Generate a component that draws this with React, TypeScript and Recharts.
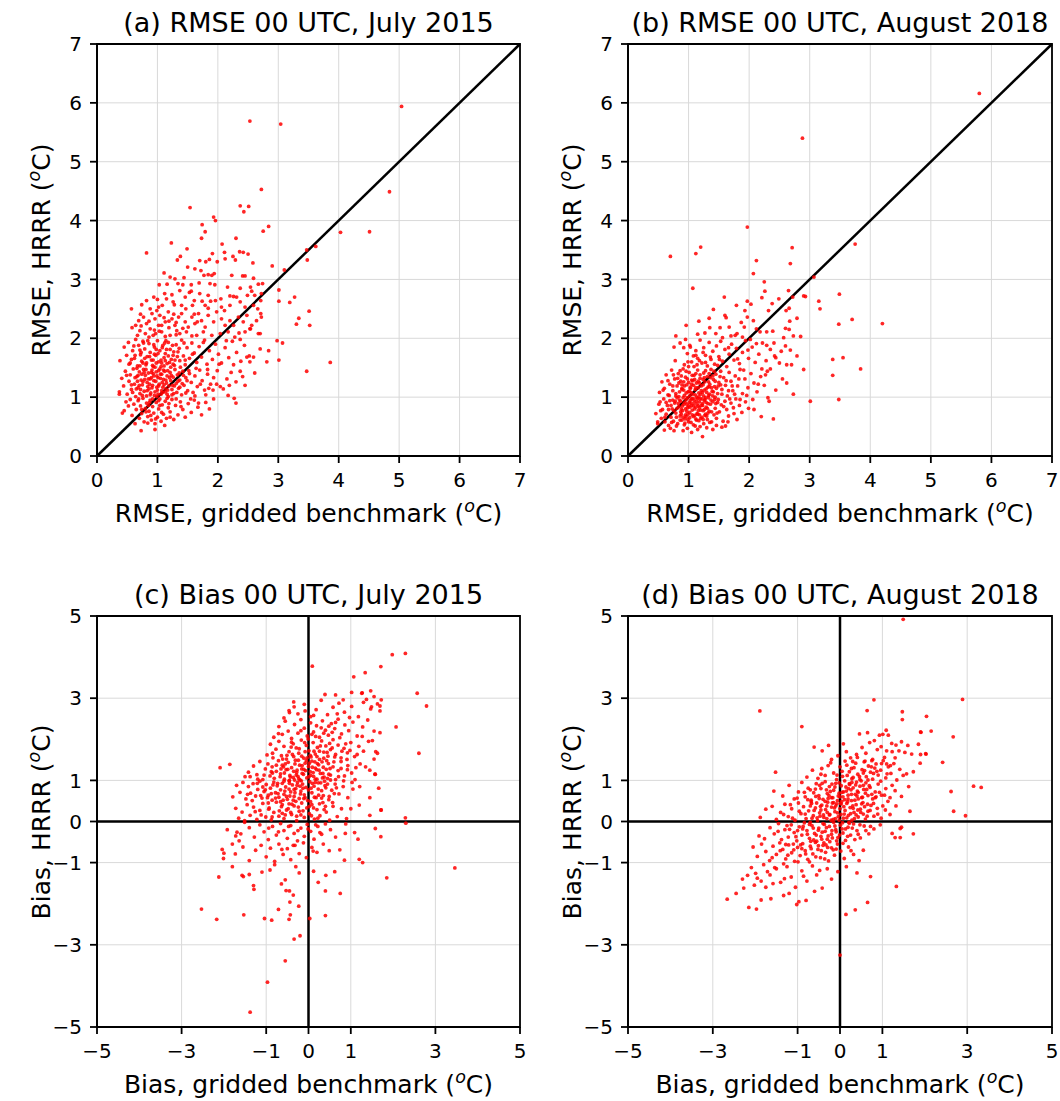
import { ScatterChart, Scatter, XAxis, YAxis, CartesianGrid, ReferenceLine, ReferenceArea } from 'recharts';

type Pt = [number, number];

const RMSE_TICKS = [0, 1, 2, 3, 4, 5, 6, 7];
const BIAS_TICKS = [-5, -3, -1, 0, 1, 3, 5];

const TITLES = [
  '(a) RMSE 00 UTC, July 2015',
  '(b) RMSE 00 UTC, August 2018',
  '(c) Bias 00 UTC, July 2015',
  '(d) Bias 00 UTC, August 2018',
];

// (a) RMSE July 2015: x = gridded benchmark, y = HRRR
const A_PTS: Pt[] = [
  [2.53,5.69],[3.04,5.64],[5.04,5.94],[4.84,4.49],[2.72,4.53],[1.54,4.22],[2.37,4.25],[2.51,4.24],[2.43,4.15],[1.93,4.06],
  [1.96,4.00],[1.74,3.93],[1.79,3.81],[1.73,3.70],[2.75,3.82],[2.84,3.90],[4.03,3.80],[4.51,3.81],[1.23,3.62],[0.82,3.45],
  [2.30,3.70],[2.07,3.60],[1.49,3.52],[3.47,3.50],[3.62,3.56],[3.48,3.33],[2.11,3.46],[1.91,3.44],[1.38,3.39],[1.33,3.33],
  [2.36,3.47],[2.42,3.46],[2.50,3.43],[2.25,3.39],[2.29,3.33],[1.70,3.32],[1.99,3.30],[2.90,3.23],[2.58,3.28],[3.10,3.16],
  [1.11,3.11],[1.50,3.21],[3.27,2.70],[3.19,2.61],[3.01,2.82],[3.01,2.63],[3.51,2.46],[3.34,2.34],[3.30,2.24],[3.52,2.22],
  [2.98,1.96],[3.07,1.92],[3.86,1.59],[3.47,1.44],[3.01,1.63],[2.84,1.79],[2.81,1.60],[2.30,0.90],[2.61,1.41],[0.57,2.50],
  [0.37,1.05],[0.42,0.73],[0.45,0.77],[0.73,0.43],[0.63,0.55],
  [1.80,3.30],[1.86,3.34],[2.12,3.35],[1.62,3.18],[1.72,3.15],[1.94,3.10],[2.23,3.07],[2.41,3.06],[2.45,3.06],[2.59,3.02],
  [1.21,3.04],[1.29,3.01],[1.44,3.03],[1.77,3.07],[1.84,3.08],[1.90,3.07],
  [1.03,2.91],[1.16,2.92],[1.34,2.93],[1.42,2.91],[1.56,2.91],[1.69,2.94],[1.87,2.93],[1.95,2.91],[2.16,2.87],[2.37,2.85],
  [2.54,2.87],[2.67,2.92],[2.74,2.93],[2.56,2.80],[0.94,2.70],[1.00,2.66],[1.12,2.76],[1.15,2.67],[1.24,2.74],[1.26,2.62],
  [1.37,2.81],[1.46,2.70],[1.56,2.80],[1.61,2.64],[1.70,2.76],[1.74,2.63],[1.84,2.73],[1.96,2.64],[2.05,2.67],[2.20,2.72],
  [2.26,2.71],[2.31,2.70],[2.37,2.62],[2.49,2.73],[2.61,2.73],[2.72,2.76],[2.71,2.64],[0.74,2.57],[0.82,2.64],[0.88,2.50],
  [1.02,2.53],[1.08,2.56],[1.40,2.56],[1.47,2.50],[1.58,2.56],[1.79,2.56],[1.84,2.51],[2.06,2.53],[2.20,2.56],[2.45,2.53],
  [2.59,2.56],[2.66,2.50],
  [0.64,2.22],[0.69,2.30],[0.77,2.36],[0.82,2.25],[0.88,2.16],[0.91,2.42],[0.96,2.33],[1.04,2.39],[1.07,2.22],[1.13,2.28],
  [1.18,2.45],[1.24,2.33],[1.29,2.22],[1.35,2.36],[1.40,2.42],[1.46,2.28],[1.51,2.19],[1.57,2.36],[1.62,2.25],[1.68,2.42],
  [1.73,2.30],[1.79,2.19],[1.84,2.39],[1.93,2.28],[1.98,2.45],[2.06,2.33],[2.12,2.22],[2.20,2.30],[2.26,2.22],[2.34,2.36],
  [2.42,2.28],[2.48,2.39],[2.56,2.22],[2.64,2.30],[2.72,2.36],[0.80,2.08],[0.93,2.05],[1.07,2.11],[1.21,2.05],[1.37,2.08],
  [1.48,2.11],[1.65,2.05],[1.76,2.11],[1.90,2.05],[2.04,2.08],[2.17,2.11],[2.28,2.02],[2.45,2.11],[2.53,2.16],[2.67,2.08],
  [0.71,2.13],[1.02,2.22],[1.32,2.13],[0.58,2.18],[0.72,2.41],[0.86,2.29],[0.99,2.47],[1.11,2.35],[1.19,2.18],[1.27,2.41],
  [0.95,2.14],[0.67,2.05],[1.31,2.27],[2.70,2.08],[2.71,2.42],[2.54,2.16],
  [0.38,1.62],[0.45,1.85],[0.49,1.71],[0.52,1.93],[0.55,1.58],[0.59,1.79],[0.62,1.66],[0.64,1.98],[0.67,1.53],[0.69,1.88],
  [0.72,1.72],[0.74,1.61],[0.76,1.95],[0.79,1.82],[0.81,1.55],[0.83,1.69],[0.86,1.91],[0.88,1.76],[0.90,1.63],[0.93,1.52],
  [0.95,1.85],[0.97,1.71],[1.00,1.96],[1.02,1.60],[1.04,1.79],[1.06,1.52],[1.09,1.88],[1.11,1.67],[1.13,1.74],[1.16,1.57],
  [1.18,1.93],[1.21,1.81],[1.23,1.64],[1.26,1.71],[1.28,1.54],[1.31,1.89],[1.34,1.77],[1.37,1.62],[1.40,1.97],[1.43,1.70],
  [1.46,1.55],[1.49,1.84],[1.53,1.66],[1.57,1.92],[1.61,1.75],[1.65,1.59],[1.69,1.86],[1.73,1.68],[1.78,1.97],[1.82,1.56],
  [1.86,1.79],[1.91,1.64],[1.96,1.90],[2.01,1.73],[2.06,1.58],[2.12,1.84],[2.18,1.67],[2.24,1.95],[2.31,1.76],[2.38,1.61],
  [2.44,1.88],[2.52,1.70],[2.59,1.68],[2.48,1.68],[2.53,1.60],[2.70,1.82],[2.37,1.98],[0.98,1.58],[0.71,1.80],[1.14,1.96],
  [0.37,1.09],[0.41,1.32],[0.44,1.19],[0.47,1.44],[0.50,1.05],[0.53,1.27],[0.55,1.38],[0.57,1.13],[0.60,1.48],[0.62,1.22],
  [0.64,1.01],[0.66,1.35],[0.68,1.16],[0.70,1.43],[0.71,1.06],[0.73,1.29],[0.75,1.21],[0.77,1.47],[0.78,1.10],[0.80,1.37],
  [0.82,1.02],[0.83,1.25],[0.85,1.41],[0.86,1.14],[0.88,1.31],[0.89,1.07],[0.91,1.46],[0.92,1.20],[0.94,1.36],[0.95,1.03],
  [0.97,1.27],[0.98,1.43],[1.00,1.12],[1.01,1.33],[1.03,1.22],[1.04,1.48],[1.06,1.05],[1.07,1.39],[1.09,1.17],[1.10,1.30],
  [1.12,1.44],[1.13,1.09],[1.15,1.24],[1.16,1.36],[1.18,1.01],[1.19,1.19],[1.21,1.42],[1.22,1.28],[1.24,1.13],[1.26,1.34],
  [1.27,1.06],[1.29,1.47],[1.31,1.23],[1.33,1.38],[1.35,1.15],[1.37,1.29],[1.40,1.04],[1.42,1.44],[1.44,1.20],[1.47,1.33],
  [1.50,1.11],[1.53,1.40],[1.56,1.25],[1.59,1.08],[1.62,1.36],[1.66,1.18],[1.70,1.46],[1.74,1.28],[1.78,1.12],[1.83,1.39],
  [1.88,1.22],[1.93,1.33],[1.99,1.45],[2.04,1.18],[2.09,1.14],[2.17,1.03],[2.15,1.31],[2.22,1.42],[2.30,1.26],[2.37,1.44],
  [2.45,1.20],[0.87,1.22],[0.93,1.40],[0.99,1.17],[1.05,1.32],[1.11,1.21],[1.17,1.45],[0.96,1.09],[1.02,1.45],[1.08,1.25],
  [1.14,1.14],[0.90,1.33],[0.84,1.18],[1.20,1.33],[1.25,1.20],[0.79,1.30],[1.36,1.41],[0.74,1.39],[0.67,1.27],
  [0.48,0.92],[0.52,0.85],[0.55,0.96],[0.58,0.69],[0.61,0.88],[0.65,0.79],[0.68,0.94],[0.70,0.64],[0.72,0.85],[0.74,0.72],
  [0.76,0.98],[0.78,0.58],[0.80,0.81],[0.82,0.90],[0.84,0.67],[0.86,0.76],[0.88,0.95],[0.90,0.61],[0.92,0.84],[0.94,0.73],
  [0.96,0.55],[0.98,0.91],[1.00,0.66],[1.02,0.80],[1.04,0.97],[1.06,0.59],[1.08,0.87],[1.10,0.71],[1.13,0.93],[1.15,0.64],
  [1.18,0.82],[1.21,0.75],[1.24,0.96],[1.27,0.62],[1.30,0.86],[1.34,0.70],[1.38,0.92],[1.42,0.79],[1.46,0.66],[1.51,0.89],
  [1.56,0.74],[1.61,0.95],[1.67,0.83],[1.73,0.70],[1.80,0.91],[1.86,0.80],[1.93,0.97],[0.96,0.45],[0.84,0.56],[1.12,0.52],
  [0.81,1.47],[0.93,1.63],[1.07,1.58],[0.72,1.13],[0.88,1.04],[1.02,0.94],[1.17,1.12],[1.26,1.56],[0.66,1.49],[0.79,1.66],
  [0.98,1.81],[1.12,1.92],[1.33,1.69],[1.41,1.23],[0.57,1.21],[0.69,0.97],[0.85,0.86],[0.99,1.01],[1.19,0.89],[1.31,0.97],
  [0.76,1.26],[0.91,1.16],[1.05,1.39],[1.22,1.51],[1.36,1.83],[0.63,1.71],[0.77,1.92],[0.94,1.28],[1.09,1.08],[1.28,1.19],
  [0.71,1.53],[0.87,1.69],[1.01,1.74],[1.15,1.81],[1.24,1.04],[0.83,1.11],[0.96,1.51],[1.13,1.62],[1.38,1.51],[0.68,1.37],
  [0.59,1.08],[0.74,0.79],[0.89,0.69],[1.07,0.74],[1.21,0.66],[0.97,0.63],[0.81,0.75],[1.11,1.53],[1.27,1.77],[1.44,1.92],
  [1.52,1.45],[1.58,1.73],[1.64,1.49],[1.71,1.22],[1.47,1.07],[1.55,0.97],[1.39,0.84],[0.53,1.56],[0.61,1.87],[0.86,2.02],
  [1.03,2.12],[1.19,2.29],[1.42,2.17],[0.73,2.21],[0.49,1.37],[0.92,0.97],[1.16,0.98],[1.04,0.86],[0.82,1.58],[0.95,1.73],
  [1.08,1.84],[1.25,1.88],[1.34,1.27],[1.46,1.63],[0.75,1.03],[0.65,1.14],[0.78,1.42],[0.92,1.54],[1.06,1.63],[1.18,1.70],
  [1.32,1.08],[1.43,1.37],[0.84,1.96],[0.97,2.08],[1.13,2.03],[1.31,2.06],[1.57,2.04],[1.66,2.28],[1.76,1.93],[1.83,1.47],
  [1.92,1.12],[2.02,1.56],[2.14,1.96],[2.26,1.55],[2.35,2.09],[1.61,2.41],[1.88,2.63],[2.11,2.47],[1.53,2.78],[1.28,2.57],
  [1.02,1.19],[1.10,1.46],[0.90,1.42],[0.76,1.58],[0.70,1.20],[0.87,0.91],[1.01,1.05],[1.14,1.29],[1.23,1.37],[0.99,1.36],
  [0.85,1.31],[1.07,1.11],[1.20,1.59],[1.29,1.63],[0.94,1.89],[1.16,1.05],[1.37,1.17],[0.63,1.33],[0.57,1.64],[0.73,1.76],
  [1.49,1.28],[1.62,1.02],[1.80,1.04],[1.98,1.22],[2.19,1.20],[2.41,1.35],[2.27,0.98],[1.68,0.90],[1.85,1.15],
];

// (b) RMSE August 2018
const B_PTS: Pt[] = [
  [5.80,6.16],[2.88,5.40],[1.97,3.89],[0.70,3.39],[1.20,3.55],[1.12,3.44],[2.71,3.54],[2.68,3.27],[2.12,3.32],[3.75,3.60],
  [2.07,3.10],[2.25,2.96],[3.07,3.04],[1.07,2.85],[2.26,2.80],[2.65,2.81],[2.72,2.70],[2.90,2.72],[2.93,2.71],[3.49,2.75],
  [3.15,2.63],[3.17,2.50],[3.70,2.32],[4.20,2.25],[3.48,2.24],[1.59,2.70],[1.41,2.49],[1.79,2.56],[1.97,2.63],[1.93,2.47],
  [2.03,2.58],[2.21,2.69],[2.38,2.59],[2.49,2.67],[2.32,2.47],[2.61,2.47],[2.66,2.51],[1.60,2.39],[1.62,2.35],[1.34,2.34],
  [1.97,2.36],[1.17,2.29],[2.07,2.30],[2.79,2.34],[2.67,2.29],[0.96,2.22],[1.35,2.18],[1.67,2.19],[1.92,2.19],[2.12,2.16],
  [2.18,2.11],[2.29,2.11],[2.39,2.12],[2.60,2.17],[2.66,2.15],[2.85,2.03],[2.73,2.04],[0.79,2.04],[1.15,2.07],[1.27,2.09],
  [1.45,2.08],[1.56,2.01],[1.77,2.05],[1.80,2.08],[1.89,2.02],[2.02,1.98],[0.76,1.85],[0.92,1.84],[1.03,1.85],[2.57,2.01],
  [2.41,1.92],[2.29,1.88],[2.53,1.78],[2.68,1.80],[2.44,1.67],[2.79,1.70],[3.38,1.64],[3.55,1.67],[3.84,1.48],[3.38,1.37],
  [2.90,1.47],[2.62,1.55],[2.70,1.55],[2.55,1.31],[2.62,1.24],[2.35,1.48],[2.27,1.38],[2.30,1.44],[2.73,1.05],[3.48,0.96],
  [2.31,0.99],[3.01,0.93],[2.40,0.63],[2.20,0.67],[1.80,0.62],[1.61,0.51],[1.55,0.49],[1.23,0.33],[1.30,0.48],[0.91,0.43],
  [0.76,0.43],[0.60,0.44],[0.49,0.55],[0.53,0.92],[2.08,0.79],[1.99,0.81],[2.33,0.93],
  [0.78,1.62],[0.86,1.92],[0.93,1.55],[0.98,1.74],[1.02,1.88],[1.05,1.60],[1.09,1.52],[1.12,1.79],[1.15,1.66],[1.19,1.97],
  [1.22,1.58],[1.25,1.84],[1.28,1.71],[1.31,1.53],[1.34,1.93],[1.37,1.64],[1.40,1.78],[1.43,1.56],[1.46,1.87],[1.50,1.69],
  [1.53,1.95],[1.56,1.61],[1.60,1.81],[1.63,1.52],[1.67,1.73],[1.71,1.90],[1.75,1.63],[1.79,1.83],[1.84,1.57],[1.89,1.76],
  [1.94,1.96],[1.99,1.66],[2.05,1.85],[2.10,1.59],[2.16,1.73],[2.22,1.92],[2.28,1.62],[2.35,1.81],[2.42,1.70],[2.50,1.58],
  [2.60,1.87],[1.08,1.70],[1.18,1.62],[1.48,1.54],[0.95,1.98],
  [0.52,1.08],[0.56,1.26],[0.60,1.15],[0.63,1.38],[0.66,1.04],[0.69,1.22],[0.72,1.46],[0.74,1.11],[0.77,1.31],[0.79,1.02],
  [0.81,1.19],[0.83,1.40],[0.85,1.09],[0.87,1.27],[0.89,1.15],[0.91,1.48],[0.93,1.03],[0.95,1.34],[0.97,1.21],[0.99,1.09],
  [1.01,1.42],[1.03,1.17],[1.05,1.29],[1.07,1.05],[1.09,1.37],[1.11,1.13],[1.13,1.24],[1.15,1.46],[1.17,1.01],[1.19,1.32],
  [1.21,1.19],[1.23,1.08],[1.25,1.41],[1.27,1.26],[1.29,1.14],[1.31,1.35],[1.33,1.03],[1.35,1.22],[1.37,1.47],[1.39,1.10],
  [1.41,1.30],[1.43,1.18],[1.45,1.39],[1.48,1.06],[1.50,1.25],[1.53,1.44],[1.55,1.13],[1.58,1.33],[1.61,1.20],[1.64,1.02],
  [1.67,1.42],[1.70,1.27],[1.73,1.11],[1.77,1.36],[1.81,1.19],[1.85,1.47],[1.89,1.06],[1.93,1.31],[1.98,1.16],[2.03,1.40],
  [2.08,1.24],[2.13,1.09],[2.19,1.35],[2.25,1.20],[2.44,1.12],[0.88,1.36],[0.92,1.12],[0.96,1.44],[1.00,1.25],[1.04,1.08],
  [1.08,1.20],[1.12,1.40],[1.16,1.16],[1.20,1.05],[1.24,1.30],[1.28,1.45],[1.32,1.17],[1.36,1.33],[1.40,1.02],[1.44,1.27],
  [1.02,1.02],[1.10,1.30],[1.18,1.24],[0.98,1.31],[1.26,1.12],[1.34,1.40],[0.84,1.24],[1.46,1.15],[1.52,1.35],
  [0.46,0.72],[0.49,0.58],[0.51,0.88],[0.55,0.64],[0.57,0.79],[0.59,0.97],[0.61,0.58],[0.63,0.71],[0.65,0.86],[0.67,0.52],
  [0.69,0.94],[0.71,0.66],[0.73,0.80],[0.75,0.59],[0.77,0.90],[0.79,0.73],[0.81,0.99],[0.82,0.55],[0.84,0.84],[0.86,0.68],
  [0.87,0.93],[0.89,0.61],[0.90,0.77],[0.92,0.88],[0.93,0.53],[0.95,0.70],[0.96,0.96],[0.98,0.82],[0.99,0.62],[1.01,0.91],
  [1.02,0.74],[1.04,0.57],[1.05,0.86],[1.07,0.98],[1.08,0.67],[1.10,0.80],[1.11,0.51],[1.13,0.93],[1.14,0.72],[1.16,0.85],
  [1.17,0.60],[1.19,0.97],[1.20,0.78],[1.22,0.66],[1.23,0.89],[1.25,0.55],[1.26,0.94],[1.28,0.71],[1.29,0.83],[1.31,0.62],
  [1.33,0.99],[1.34,0.76],[1.36,0.88],[1.38,0.58],[1.40,0.92],[1.42,0.70],[1.44,0.81],[1.46,0.64],[1.49,0.96],[1.51,0.75],
  [1.54,0.87],[1.57,0.59],[1.60,0.93],[1.63,0.79],[1.66,0.68],[1.70,0.90],[1.74,0.82],[1.78,0.97],[1.84,0.86],[1.88,0.74],
  [1.94,0.92],[0.85,0.95],[0.88,0.80],[0.91,0.66],[0.94,0.91],[0.97,0.76],[1.00,0.58],[1.03,0.95],[1.06,0.78],[1.09,0.90],
  [1.12,0.63],[1.15,0.98],[1.18,0.70],[1.21,0.86],[1.24,0.77],[1.27,0.96],[1.30,0.68],[1.00,0.85],[1.06,0.70],[1.12,0.83],
  [0.94,0.63],[1.18,0.92],[1.24,0.62],[0.80,0.66],[0.74,0.95],[1.32,0.89],[1.38,0.75],[1.43,0.96],
  [1.05,0.40],[0.98,0.47],[1.15,0.45],[0.70,0.47],[1.40,0.45],
  [0.83,0.89],[0.96,1.07],[1.09,0.95],[1.21,1.11],[1.35,1.05],[0.88,0.71],[1.02,0.83],[1.16,0.77],[1.29,0.91],[1.41,1.09],
  [0.79,1.06],[0.93,1.19],[1.07,1.28],[1.19,1.38],[1.33,1.26],[0.71,0.86],[0.86,0.61],[0.99,0.71],[1.13,0.61],[1.27,0.69],
  [0.91,0.99],[1.04,0.90],[1.17,1.07],[1.31,0.81],[1.45,0.89],[0.76,0.77],[0.89,1.13],[1.03,1.15],[1.14,0.88],[1.25,1.02],
  [0.82,1.32],[0.97,0.88],[1.11,1.04],[1.22,0.97],[1.38,1.16],[0.68,1.03],[0.81,0.81],[0.95,0.80],[1.08,0.85],[1.20,0.64],
  [1.32,0.73],[1.47,0.73],[0.92,1.26],[1.06,1.37],[1.24,1.21],[1.40,1.36],[1.55,1.05],[1.62,1.28],[1.68,0.97],[1.72,1.19],
  [1.58,0.84],[1.49,1.19],[0.63,0.91],[0.58,1.12],[0.66,1.28],[0.74,1.19],[0.86,1.45],[1.00,1.52],[1.14,1.55],[1.28,1.59],
  [1.42,1.44],[0.72,0.57],[0.80,0.51],[0.94,0.56],[1.08,0.53],[1.19,0.50],[1.35,0.57],[1.46,0.52],[1.02,0.65],[1.15,0.71],
  [0.87,0.75],[0.98,0.99],[1.12,1.16],[1.26,1.33],[1.37,0.95],[1.48,0.91],[1.53,1.21],[1.66,1.11],[1.76,1.05],[1.83,1.31],
  [1.91,1.46],[1.96,1.03],[2.06,0.96],[2.15,1.22],[2.21,1.48],[1.85,0.96],[1.75,0.72],[1.65,0.58],[0.90,0.85],[1.05,0.97],
  [1.18,0.82],[1.30,1.08],[1.44,1.00],[0.84,1.01],[0.78,0.93],[1.01,1.10],[1.13,1.00],[1.23,0.86],[1.34,1.18],[0.96,0.67],
  [1.10,0.69],[1.26,0.79],[0.89,1.21],[1.05,1.22],[1.16,1.27],[1.28,0.99],[0.75,1.38],[0.67,0.79],[0.61,0.66],[0.54,0.77],
  [0.99,1.60],[1.12,1.71],[1.24,1.76],[1.36,1.68],[1.51,1.64],[1.66,1.84],[1.81,1.65],[1.98,1.80],[2.12,1.91],[1.70,2.04],
  [1.52,2.18],[1.87,2.27],
];

// (c) Bias July 2015
const C_PTS: Pt[] = [
  [2.29,4.09],[1.98,4.06],[0.09,3.78],[1.71,3.77],[1.34,3.62],[1.07,3.52],[2.57,3.12],[2.79,2.81],[0.39,3.09],[0.64,3.08],
  [1.02,3.14],[1.27,3.13],[1.47,3.18],[2.07,2.30],[2.61,1.66],[1.66,0.81],[1.58,1.15],[1.45,1.25],[2.29,0.09],[2.30,-0.04],
  [1.72,0.28],[1.58,-0.17],[1.71,-0.37],[3.46,-1.13],[1.85,-1.37],[-2.09,1.31],[-1.86,1.39],[-1.79,0.60],[-2.53,-2.13],[-2.17,-2.38],
  [-2.12,-1.35],[-1.53,-2.27],[-1.38,-4.64],[-0.97,-3.91],[-0.55,-3.39],[-0.34,-2.86],[-0.20,-2.78],[-1.04,-2.36],[-0.87,-2.40],[-0.71,-2.14],
  [-0.46,-2.38],[-0.43,-2.27],[-0.23,-2.06],[0.40,-2.29],[0.03,-2.36],[-0.53,-1.68],[-0.45,-1.69],[-0.44,-1.96],[-0.36,-1.79],[-0.64,-1.52],
  [-0.55,-1.42],[0.23,-1.48],[0.40,-1.69],[0.75,-1.75],[0.62,-1.22],[0.41,-1.31],[0.12,-1.21],[-1.29,-1.65],[-1.30,-1.56],[-1.57,-1.31],
  [-1.54,-1.34],[-1.40,-1.29],[-1.10,-1.23],[-0.91,-1.18],[-0.22,-1.25],[-0.80,-1.05],[-0.30,-1.10],[-1.80,-1.10],
  [-0.34,2.79],[-0.08,2.69],[-0.45,2.65],[0.82,2.96],[1.26,3.12],[1.37,2.97],[1.55,3.04],[1.72,2.96],[1.63,2.86],[1.69,2.81],
  [1.49,2.79],[1.69,2.69],[1.55,2.20],[1.51,1.97],[1.35,1.33],[1.10,1.02],[1.71,0.28],
  [-0.46,2.70],[-0.35,2.91],[-0.25,2.62],[-0.10,2.85],[0.05,2.55],[0.18,2.72],[0.30,2.95],[0.45,2.60],[0.58,2.78],[0.72,2.88],
  [0.85,2.66],[1.02,2.80],[1.18,2.55],[1.30,2.90],[1.47,2.74],[-0.58,2.52],
  [-0.82,2.05],[-0.70,2.31],[-0.62,2.12],[-0.55,2.44],[-0.48,2.20],[-0.40,2.02],[-0.33,2.36],[-0.25,2.15],[-0.18,2.48],[-0.10,2.27],
  [-0.03,2.08],[0.05,2.40],[0.12,2.18],[0.19,2.33],[0.26,2.05],[0.33,2.45],[0.40,2.22],[0.47,2.10],[0.54,2.38],[0.62,2.26],
  [0.70,2.49],[0.78,2.13],[0.86,2.35],[0.95,2.21],[1.05,2.42],[1.15,2.08],[1.28,2.30],[1.40,2.47],[1.69,2.16],[0.30,2.28],
  [0.08,2.12],
  [-0.98,1.62],[-0.90,1.88],[-0.84,1.55],[-0.77,1.76],[-0.70,1.95],[-0.64,1.60],[-0.58,1.83],[-0.52,1.52],[-0.46,1.70],[-0.40,1.93],
  [-0.35,1.58],[-0.29,1.79],[-0.23,1.66],[-0.17,1.98],[-0.11,1.54],[-0.05,1.85],[0.01,1.72],[0.06,1.57],[0.11,1.92],[0.16,1.64],
  [0.21,1.80],[0.26,1.51],[0.31,1.96],[0.36,1.69],[0.41,1.84],[0.46,1.59],[0.52,1.75],[0.58,1.99],[0.64,1.63],[0.70,1.86],
  [0.77,1.55],[0.84,1.78],[0.92,1.67],[1.00,1.92],[1.09,1.58],[1.19,1.83],[1.30,1.71],[1.42,1.95],[1.59,1.70],[1.63,1.66],
  [1.55,1.52],[0.20,1.58],[-0.08,1.70],[0.50,1.90],
  [-1.50,1.09],[-1.42,1.20],[-1.38,1.09],[-1.30,1.35],[-1.22,1.14],[-1.15,1.46],[-1.08,1.02],[-1.02,1.28],[-0.96,1.40],[-0.91,1.11],
  [-0.86,1.33],[-0.81,1.05],[-0.76,1.22],[-0.71,1.48],[-0.66,1.16],[-0.62,1.37],[-0.57,1.03],[-0.53,1.26],[-0.48,1.44],[-0.44,1.12],
  [-0.40,1.31],[-0.36,1.07],[-0.32,1.40],[-0.28,1.19],[-0.24,1.49],[-0.20,1.01],[-0.16,1.28],[-0.12,1.15],[-0.08,1.42],[-0.04,1.06],
  [0.00,1.34],[0.04,1.21],[0.08,1.47],[0.12,1.10],[0.16,1.30],[0.20,1.03],[0.24,1.38],[0.28,1.17],[0.32,1.45],[0.37,1.08],
  [0.42,1.27],[0.47,1.41],[0.52,1.13],[0.58,1.33],[0.64,1.02],[0.70,1.24],[0.77,1.46],[0.85,1.11],[0.93,1.36],[1.02,1.18],
  [1.22,1.40],[1.57,1.15],[-0.55,1.40],[-0.35,1.22],[-0.15,1.36],[0.05,1.12],[0.25,1.25],[-0.45,1.00],[-0.25,1.10],[0.15,1.45],
  [0.35,1.32],[-0.65,1.28],[-0.05,1.48],[0.45,1.05],[-0.85,1.18],[0.60,1.45],[-1.20,1.03],
  [-1.70,0.88],[-1.62,0.71],[-1.55,0.95],[-1.48,0.55],[-1.42,0.85],[-1.37,0.69],[-1.31,0.92],[-1.25,0.62],[-1.20,0.78],[-1.15,0.98],
  [-1.10,0.57],[-1.05,0.73],[-1.00,0.90],[-0.95,0.64],[-0.90,0.81],[-0.86,0.52],[-0.82,0.96],[-0.78,0.70],[-0.74,0.87],[-0.70,0.59],
  [-0.66,0.77],[-0.62,0.93],[-0.58,0.66],[-0.54,0.84],[-0.50,0.54],[-0.46,0.99],[-0.42,0.72],[-0.38,0.89],[-0.34,0.61],[-0.30,0.80],
  [-0.26,0.95],[-0.22,0.56],[-0.18,0.74],[-0.14,0.91],[-0.10,0.65],[-0.06,0.83],[-0.02,0.51],[0.03,0.97],[0.08,0.70],[0.13,0.86],
  [0.18,0.58],[0.23,0.79],[0.29,0.94],[0.35,0.63],[0.41,0.82],[0.48,0.53],[0.55,0.76],[0.63,0.91],[0.72,0.67],[0.82,0.85],
  [0.93,0.58],[1.05,0.79],[1.45,0.58],[-0.60,0.52],[-0.32,0.70],[-0.08,0.58],[0.16,0.95],[-0.88,0.68],[-0.44,0.62],[0.00,0.77],
  [-1.08,0.84],[0.38,0.98],[-0.20,0.86],
  [-1.72,0.32],[-1.65,0.08],[-1.57,0.23],[-1.51,0.02],[-1.45,0.41],[-1.38,0.15],[-1.30,0.35],[-1.22,0.05],[-1.15,0.27],[-1.08,0.44],
  [-1.01,0.11],[-0.94,0.30],[-0.88,0.04],[-0.82,0.22],[-0.76,0.47],[-0.70,0.13],[-0.64,0.36],[-0.58,0.07],[-0.52,0.28],[-0.46,0.43],
  [-0.40,0.17],[-0.34,0.38],[-0.28,0.02],[-0.22,0.25],[-0.16,0.45],[-0.10,0.10],[-0.04,0.33],[0.02,0.19],[0.08,0.41],[0.14,0.06],
  [0.20,0.29],[0.27,0.14],[0.34,0.46],[0.42,0.23],[0.50,0.03],[0.58,0.37],[0.68,0.12],[0.78,0.31],[0.90,0.07],[1.00,0.31],
  [1.20,0.40],[1.45,0.15],[-0.62,0.20],[-0.30,0.49],[0.05,0.48],[-0.95,0.45],
  [-1.69,-0.26],[-1.60,-0.30],[-1.72,-0.35],[-1.64,-0.47],[-1.51,-0.02],[-1.40,-0.15],[-1.28,-0.38],[-1.15,-0.08],[-1.05,-0.25],[-0.95,-0.44],
  [-0.85,-0.12],[-0.76,-0.33],[-0.66,-0.05],[-0.58,-0.22],[-0.50,-0.41],[-0.42,-0.10],[-0.34,-0.29],[-0.26,-0.47],[-0.18,-0.16],[-0.10,-0.36],
  [-0.03,-0.07],[0.05,-0.24],[0.13,-0.43],[0.22,-0.12],[0.31,-0.31],[0.40,-0.06],[0.52,-0.20],[0.64,-0.38],[0.87,-0.29],[0.88,-0.06],
  [1.09,-0.27],[1.17,-0.43],[-1.92,-0.20],
  [-2.04,-0.68],[-2.00,-0.77],[-2.01,-0.90],[-1.73,-0.79],[-1.55,-0.62],[-1.40,-0.95],[-1.25,-0.70],[-1.12,-0.58],[-1.00,-0.86],[-0.90,-0.65],
  [-0.80,-0.97],[-0.70,-0.55],[-0.60,-0.80],[-0.50,-0.66],[-0.42,-0.93],[-0.32,-0.58],[-0.22,-0.78],[-0.12,-0.52],[-0.05,-0.88],[0.08,-0.63],
  [0.20,-0.75],[0.35,-0.55],[0.49,-0.71],[0.74,-0.69],[0.85,-0.94],[1.20,-0.92],[1.28,-1.00],[-1.80,-0.55],
  [-0.61,1.52],[-0.49,1.27],[-0.38,1.63],[-0.27,0.88],[-0.15,1.17],[-0.03,1.55],[0.09,0.93],[0.21,1.41],[0.33,1.06],[0.44,1.68],
  [-0.56,0.74],[-0.43,1.08],[-0.31,1.49],[-0.19,0.67],[-0.07,1.24],[0.04,1.61],[0.16,1.03],[0.28,1.84],[0.39,0.87],[0.51,1.29],
  [-0.67,1.09],[-0.52,0.61],[-0.41,1.81],[-0.29,1.13],[-0.13,0.81],[0.01,1.09],[0.13,1.71],[0.24,0.64],[0.36,1.54],[0.48,1.15],
  [-0.73,0.93],[-0.59,1.33],[-0.46,0.79],[-0.33,1.01],[-0.21,1.37],[-0.09,1.92],[0.06,0.81],[0.19,1.26],[0.31,0.75],[0.43,1.48],
  [-0.62,0.41],[-0.48,0.31],[-0.36,0.52],[-0.24,0.35],[-0.11,0.56],[0.02,0.37],[0.14,0.59],[0.26,0.43],[0.37,0.29],[0.49,0.61],
  [-0.78,0.57],[-0.69,0.26],[-0.55,0.16],[-0.42,0.22],[-0.28,0.13],[-0.13,0.26],[0.07,0.14],[0.22,0.08],[0.31,0.57],[0.57,0.46],
  [-0.97,0.58],[-0.84,0.89],[-0.76,1.37],[-0.88,1.21],[-1.02,0.77],[-1.13,0.63],[-1.21,0.93],[-1.05,1.13],[-0.93,0.33],[-1.12,0.16],
  [0.62,1.57],[0.71,1.09],[0.66,0.82],[0.77,1.29],[0.83,0.99],[0.91,1.51],[0.98,1.73],[0.88,1.89],[0.74,2.04],[0.56,2.17],
  [-0.51,1.61],[-0.36,1.89],[-0.22,1.77],[-0.01,2.01],[0.17,2.07],[0.36,2.15],[0.48,2.32],[0.64,2.41],[0.26,1.71],[-0.16,1.59],
  [-0.57,1.18],[-0.45,0.93],[-0.34,0.78],[-0.23,1.04],[-0.11,1.27],[0.02,1.42],[0.11,1.19],[0.23,0.94],[0.34,1.17],[0.45,0.91],
  [-0.39,0.42],[-0.18,0.16],[0.12,0.33],[0.40,0.37],[-0.72,0.68],[-0.66,0.48],[-0.86,0.11],[-1.26,0.24],[-1.44,0.66],[-1.33,0.51],
  [-0.47,-0.12],[-0.25,-0.22],[-0.01,-0.18],[0.27,-0.27],[-0.71,-0.25],[-0.94,-0.16],[-0.36,-0.58],[0.11,-0.72],[-0.63,-0.68],[0.17,-0.08],
  [-0.17,0.99],[0.09,1.32],[-0.27,1.25],[-0.58,0.98],[0.52,1.01],[0.61,0.68],[0.56,1.79],[0.79,1.71],[0.92,1.26],[1.12,1.31],
  [1.03,0.95],[1.21,0.85],[1.15,1.63],[1.27,2.07],[0.97,2.53],[0.68,2.62],[0.12,2.58],[-0.18,2.21],[-0.71,2.14],[-0.85,1.66],
];

// (d) Bias August 2018
const D_PTS: Pt[] = [
  [1.49,4.92],[0.80,2.96],[2.89,2.97],[-1.89,2.69],[0.64,2.70],[1.47,2.67],[1.47,2.48],[2.04,2.56],[-0.90,2.31],[1.09,2.22],
  [1.90,2.18],[2.15,2.20],[2.67,2.06],[1.85,1.88],[2.02,1.65],[1.90,1.63],[-1.52,1.20],[-1.60,0.37],
  [0.46,2.13],[0.65,2.16],[0.93,2.10],[1.01,2.12],[1.14,2.10],[0.81,1.97],[1.22,1.90],[1.32,1.86],[1.45,1.94],[1.91,2.17],
  [0.97,1.82],[1.10,1.72],[1.23,1.70],[1.39,1.72],[1.53,1.68],[1.69,1.64],[2.03,1.64],[0.39,1.63],[0.61,1.66],[0.77,1.51],
  [0.08,1.89],[-0.27,1.85],[-0.42,1.72],[-0.61,1.81],[-0.20,1.51],[0.25,1.55],[0.52,1.80],[0.70,1.92],[1.05,1.56],[1.60,1.85],
  [0.88,1.75],[1.30,1.55],[0.15,1.70],[-0.05,1.60],
  [-0.78,1.08],[-0.65,1.25],[-0.52,1.05],[-0.43,1.29],[-0.35,1.12],[-0.22,1.43],[-0.15,1.18],[-0.08,1.02],[0.00,1.33],[0.06,1.10],
  [0.12,1.47],[0.16,1.37],[0.22,1.21],[0.28,1.04],[0.33,1.31],[0.37,1.42],[0.42,1.15],[0.47,1.02],[0.52,1.26],[0.57,1.45],
  [0.62,1.09],[0.67,1.35],[0.72,1.20],[0.77,1.03],[0.82,1.30],[0.85,1.40],[0.90,1.13],[0.96,1.25],[1.02,1.48],[1.08,1.06],
  [1.14,1.33],[1.20,1.17],[1.27,1.41],[1.34,1.01],[1.41,1.27],[1.49,1.12],[1.57,1.16],[1.73,1.21],[1.89,1.42],[2.42,1.44],
  [0.30,1.46],[-0.28,1.36],[0.55,1.18],[0.05,1.22],[0.75,1.48],[1.10,1.40],[-0.45,1.15],
  [-1.56,0.74],[-1.35,0.62],[-1.20,0.88],[-1.08,0.55],[-0.98,0.72],[-0.90,0.95],[-0.82,0.60],[-0.75,0.81],[-0.68,0.52],[-0.62,0.70],
  [-0.56,0.92],[-0.50,0.63],[-0.45,0.80],[-0.40,0.54],[-0.35,0.97],[-0.30,0.68],[-0.25,0.85],[-0.20,0.58],[-0.15,0.76],[-0.10,0.93],
  [-0.06,0.51],[-0.02,0.69],[0.03,0.87],[0.07,0.60],[0.11,0.99],[0.15,0.74],[0.19,0.55],[0.23,0.90],[0.27,0.66],[0.31,0.82],
  [0.35,0.52],[0.39,0.96],[0.43,0.71],[0.47,0.86],[0.51,0.58],[0.56,0.78],[0.61,0.94],[0.66,0.63],[0.71,0.83],[0.77,0.55],
  [0.83,0.72],[0.90,0.91],[0.98,0.64],[1.08,0.80],[1.18,0.58],[1.30,0.75],[1.45,0.61],[1.62,0.85],[2.62,0.73],[3.15,0.86],
  [3.33,0.83],[0.20,0.80],[0.00,0.60],[-0.12,0.84],[0.40,0.62],[0.60,0.69],[0.08,0.72],[-0.28,0.56],[0.28,0.95],[0.50,0.99],
  [-0.48,0.88],[0.85,0.60],[-0.70,0.77],
  [-1.88,0.10],[-1.75,0.30],[-1.50,0.05],[-1.40,0.22],[-1.30,0.42],[-1.22,0.12],[-1.14,0.31],[-1.06,0.03],[-0.98,0.45],[-0.92,0.19],
  [-0.86,0.36],[-0.80,0.07],[-0.74,0.26],[-0.68,0.48],[-0.63,0.14],[-0.58,0.33],[-0.53,0.02],[-0.48,0.21],[-0.43,0.40],[-0.38,0.10],
  [-0.34,0.29],[-0.29,0.47],[-0.25,0.16],[-0.20,0.35],[-0.16,0.05],[-0.12,0.24],[-0.08,0.43],[-0.04,0.12],[0.00,0.31],[0.04,0.49],
  [0.08,0.08],[0.12,0.27],[0.16,0.44],[0.20,0.15],[0.24,0.34],[0.28,0.03],[0.33,0.22],[0.38,0.41],[0.43,0.11],[0.48,0.30],
  [0.54,0.46],[0.60,0.06],[0.66,0.25],[0.73,0.39],[0.80,0.13],[0.88,0.32],[0.97,0.08],[1.07,0.28],[1.18,0.17],[1.32,0.38],
  [1.65,0.25],[2.68,0.25],[2.96,0.14],[-0.55,0.45],[-0.10,0.38],[0.30,0.38],[0.10,0.18],[-0.30,0.22],[-0.70,0.38],[0.55,0.18],
  [-0.45,0.28],[-0.02,0.03],[0.18,0.48],[-0.18,0.45],[0.65,0.42],
  [-1.91,-0.35],[-1.78,-0.42],[-1.65,-0.15],[-1.55,-0.30],[-1.45,-0.05],[-1.38,-0.44],[-1.30,-0.20],[-1.22,-0.38],[-1.15,-0.08],[-1.08,-0.27],
  [-1.02,-0.47],[-0.96,-0.13],[-0.90,-0.33],[-0.84,-0.03],[-0.78,-0.22],[-0.72,-0.41],[-0.66,-0.10],[-0.60,-0.29],[-0.55,-0.48],[-0.50,-0.16],
  [-0.45,-0.36],[-0.40,-0.05],[-0.35,-0.24],[-0.30,-0.43],[-0.25,-0.12],[-0.20,-0.31],[-0.15,-0.02],[-0.10,-0.20],[-0.05,-0.39],[0.01,-0.09],
  [0.07,-0.28],[0.13,-0.46],[0.19,-0.14],[0.25,-0.33],[0.32,-0.06],[0.40,-0.22],[0.48,-0.40],[0.57,-0.11],[0.68,-0.30],[0.80,-0.18],
  [0.95,-0.08],[1.23,-0.29],[1.30,-0.39],[1.42,-0.39],[1.42,-0.17],[1.45,-0.14],[1.73,-0.30],[-0.88,-0.18],[-0.62,-0.45],[-0.32,-0.15],
  [-0.08,-0.47],[0.22,-0.04],[-1.25,-0.10],[-0.70,-0.02],[-0.42,-0.26],[0.05,-0.18],[-0.18,-0.40],[0.35,-0.44],[-1.00,-0.22],
  [-2.05,-0.62],[-1.95,-0.85],[-1.85,-0.55],[-1.75,-0.73],[-1.66,-0.95],[-1.58,-0.60],[-1.50,-0.80],[-1.42,-0.52],[-1.35,-0.68],[-1.28,-0.91],
  [-1.21,-0.57],[-1.14,-0.76],[-1.07,-0.97],[-1.00,-0.63],[-0.94,-0.83],[-0.88,-0.54],[-0.82,-0.71],[-0.76,-0.92],[-0.70,-0.60],[-0.64,-0.79],
  [-0.58,-0.51],[-0.52,-0.68],[-0.46,-0.88],[-0.40,-0.58],[-0.34,-0.75],[-0.27,-0.96],[-0.20,-0.64],[-0.13,-0.82],[-0.06,-0.55],[0.02,-0.72],
  [0.10,-0.90],[0.20,-0.62],[0.32,-0.80],[0.45,-0.95],[0.55,-0.70],[-1.60,-0.88],[-1.10,-0.55],[-0.72,-0.98],[-0.38,-0.52],[-0.90,-0.66],
  [-2.09,-1.12],[-1.99,-1.26],[-1.95,-1.38],[-2.27,-1.62],[-2.66,-1.89],[-2.15,-2.09],[-1.97,-2.13],[-1.86,-1.91],[-1.63,-1.88],[-1.33,-1.80],
  [-1.02,-2.02],[-0.97,-1.95],[-0.80,-1.92],[0.72,-1.34],[1.33,-1.58],[0.65,-1.97],[0.14,-2.26],[0.36,-2.15],[0.00,-3.25],[-1.80,-1.05],
  [-1.65,-1.30],[-1.50,-1.15],[-1.40,-1.48],[-1.25,-1.10],[-1.15,-1.35],[-1.05,-1.60],[-0.90,-1.20],[-0.78,-1.45],[-0.65,-1.08],[-0.55,-1.30],
  [-0.42,-1.62],[-0.30,-1.15],[-0.20,-1.40],[-0.05,-1.22],[0.15,-1.10],[-2.30,-1.40],[-1.75,-1.60],[-1.20,-1.75],[-0.60,-1.70],[0.40,-1.25],
  [-2.45,-1.75],
  [-0.72,-0.07],[-0.61,0.27],[-0.51,-0.21],[-0.39,0.16],[-0.28,-0.35],[-0.17,0.58],[-0.06,0.21],[0.05,0.71],[0.16,0.09],[0.27,0.51],
  [-0.67,0.44],[-0.54,0.09],[-0.43,-0.43],[-0.31,0.38],[-0.21,0.03],[-0.09,-0.25],[0.03,0.43],[0.14,0.84],[0.25,0.19],[0.36,0.66],
  [-0.77,-0.31],[-0.63,-0.16],[-0.49,0.56],[-0.37,-0.07],[-0.26,0.63],[-0.13,0.33],[-0.01,-0.33],[0.11,0.53],[0.22,0.92],[0.34,0.07],
  [-0.82,0.18],[-0.69,-0.48],[-0.56,-0.33],[-0.46,0.37],[-0.33,-0.57],[-0.23,0.73],[-0.11,0.07],[0.02,0.17],[0.13,-0.18],[0.26,0.77],
  [0.42,0.28],[0.53,0.59],[0.64,0.13],[0.75,0.66],[0.47,-0.08],[0.58,0.36],[0.69,0.87],[0.79,0.44],[0.37,0.89],[0.46,1.09],
  [0.58,1.24],[0.66,1.01],[0.79,1.17],[0.93,0.71],[1.01,0.38],[0.89,0.18],[1.13,0.49],[1.23,0.88],[0.72,-0.12],[0.61,-0.22],
  [0.43,-0.31],[0.29,-0.16],[0.18,-0.36],[0.06,-0.03],[-0.04,0.62],[-0.15,0.46],[-0.24,0.17],[-0.35,0.49],[-0.47,0.13],[-0.57,0.61],
  [-0.66,0.08],[-0.76,0.53],[-0.87,-0.12],[-0.96,0.25],[-1.04,-0.37],[-1.12,0.08],[-1.19,-0.19],[-0.93,-0.57],[-0.81,-0.79],[-0.68,-0.66],
  [-0.57,-0.86],[-0.44,-0.71],[-0.29,-0.63],[-0.16,-0.69],[-0.51,-0.59],[-0.24,-0.49],[-0.12,-0.11],[0.09,0.36],[0.19,0.64],[0.31,0.32],
  [0.41,0.74],[0.51,0.43],[0.63,0.78],[0.71,0.27],[0.83,0.58],[0.96,0.98],[1.05,0.64],[0.87,1.22],[1.11,1.16],[0.98,1.41],
  [1.19,1.36],[0.74,1.33],[0.59,1.47],[0.27,1.29],[0.41,1.56],[-0.07,1.13],[-0.19,0.91],[-0.32,0.77],[-0.42,0.93],[-0.58,0.79],
  [-0.84,0.71],[-1.01,0.57],[-1.17,0.41],[-1.33,0.17],[-1.46,-0.24],[-1.28,-0.56],[-1.41,-0.71],[-1.23,-0.82],[-1.09,-0.69],[-0.99,-0.98],
  [-1.33,-1.03],[-1.54,-1.12],[-1.71,-1.22],[-1.86,-1.45],[-2.02,-1.55],[-2.18,-1.31],[-1.58,-1.51],[-1.31,-1.39],[-0.86,-1.33],[-0.48,-1.19],
  [-0.36,-0.91],[-0.09,-0.67],[0.07,-0.53],[0.26,-0.71],[-0.02,0.94],[0.31,1.07],[0.17,1.12],[0.43,0.55],[0.55,0.88],[0.01,0.44],
  [-0.31,0.07],[-0.19,-0.22],[0.21,-0.02],[0.38,0.16],[0.49,0.22],
];

const FONT = "'DejaVu Sans', sans-serif";
const fmt = (v: number) => (v < 0 ? `\u2212${Math.abs(v)}` : `${v}`);

const renderDot = (p: any) => (
  <circle cx={p.cx} cy={p.cy} r={1.9} fill="#ff0000" fillOpacity={0.85} />
);

function Unit({ text }: { text: string }) {
  return (
    <>
      {text} (
      <span style={{ fontSize: '0.7em', fontStyle: 'italic', position: 'relative', top: '-0.55em' }}>o</span>
      C)
    </>
  );
}

interface Box { l: number; t: number; r: number; b: number }

interface PanelProps {
  box: Box;
  pts: Pt[];
  domain: [number, number];
  ticks: number[];
  mode: 'diag' | 'cross';
  title: string;
  xText: string;
  yText: string;
}

function Panel({ box, pts, domain, ticks, mode, title, xText, yText }: PanelProps) {
  const w = box.r - box.l;
  const h = box.b - box.t;
  const cx = (box.l + box.r) / 2;
  const cy = (box.t + box.b) / 2;
  const data = pts.map(([x, y]) => ({ x, y }));
  const tick = { fill: '#000', fontSize: 20, fontFamily: FONT };
  const line = { stroke: '#000', strokeWidth: 1.8 };
  return (
    <>
      <div style={{ position: 'absolute', left: box.l - 70, top: box.t - 12 }}>
        <ScatterChart width={w + 82} height={h + 62} margin={{ top: 12, right: 12, bottom: 0, left: 10 }}>
          <CartesianGrid stroke="#d9d9d9" strokeWidth={1} />
          <XAxis type="number" dataKey="x" domain={domain} ticks={ticks} interval={0} tickFormatter={fmt}
            height={50} tick={tick} tickSize={7} tickMargin={10} axisLine={line} tickLine={line} allowDataOverflow />
          <YAxis type="number" dataKey="y" domain={domain} ticks={ticks} interval={0} tickFormatter={fmt}
            width={60} tick={tick} tickSize={7} tickMargin={8} axisLine={line} tickLine={line} allowDataOverflow />
          <ReferenceArea x1={domain[0]} x2={domain[1]} y1={domain[0]} y2={domain[1]}
            fill="none" fillOpacity={0} stroke="#000" strokeWidth={1.8} />
          <Scatter data={data} shape={renderDot} isAnimationActive={false} />
          {mode === 'diag' && (
            <ReferenceLine segment={[{ x: domain[0], y: domain[0] }, { x: domain[1], y: domain[1] }]}
              stroke="#000" strokeWidth={2.5} />
          )}
          {mode === 'cross' && <ReferenceLine y={0} stroke="#000" strokeWidth={2.5} />}
          {mode === 'cross' && <ReferenceLine x={0} stroke="#000" strokeWidth={2.5} />}
        </ScatterChart>
      </div>
      <div style={{ position: 'absolute', left: cx, top: box.t - 22, transform: 'translate(-50%,-50%)',
        fontSize: 27, lineHeight: 1, whiteSpace: 'nowrap' }}>{title}</div>
      <div style={{ position: 'absolute', left: cx, top: box.b + 57, transform: 'translate(-50%,-50%)',
        fontSize: 25, lineHeight: 1, whiteSpace: 'nowrap' }}><Unit text={xText} /></div>
      <div style={{ position: 'absolute', left: box.l - 56, top: cy, transform: 'translate(-50%,-50%) rotate(-90deg)',
        fontSize: 25, lineHeight: 1, whiteSpace: 'nowrap' }}><Unit text={yText} /></div>
    </>
  );
}

export default function App() {
  return (
    <div style={{ position: 'absolute', left: 0, top: 0, width: 1060, height: 1101, background: '#fff', fontFamily: FONT, color: '#000' }}>
      <Panel box={{ l: 97, t: 44, r: 520, b: 456 }} pts={A_PTS} domain={[0, 7]} ticks={RMSE_TICKS} mode="diag"
        title={TITLES[0]} xText="RMSE, gridded benchmark" yText="RMSE, HRRR" />
      <Panel box={{ l: 628, t: 44, r: 1052, b: 456 }} pts={B_PTS} domain={[0, 7]} ticks={RMSE_TICKS} mode="diag"
        title={TITLES[1]} xText="RMSE, gridded benchmark" yText="RMSE, HRRR" />
      <Panel box={{ l: 97, t: 616, r: 520, b: 1027 }} pts={C_PTS} domain={[-5, 5]} ticks={BIAS_TICKS} mode="cross"
        title={TITLES[2]} xText="Bias, gridded benchmark" yText="Bias, HRRR" />
      <Panel box={{ l: 628, t: 616, r: 1052, b: 1027 }} pts={D_PTS} domain={[-5, 5]} ticks={BIAS_TICKS} mode="cross"
        title={TITLES[3]} xText="Bias, gridded benchmark" yText="Bias, HRRR" />
    </div>
  );
}
